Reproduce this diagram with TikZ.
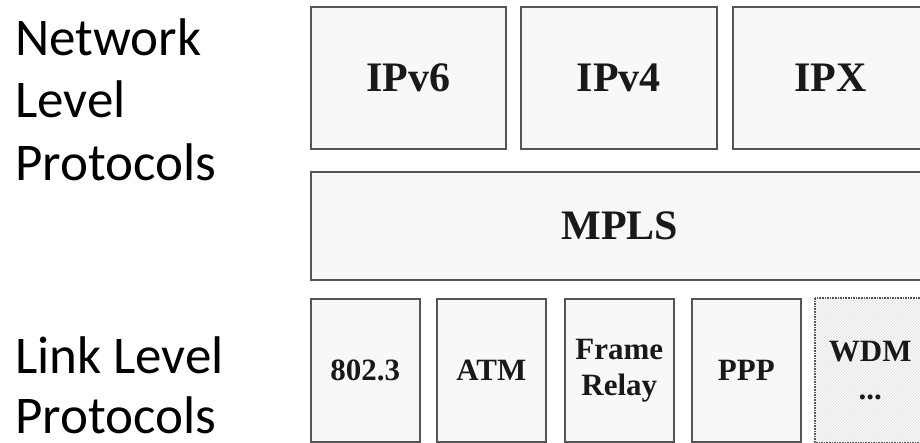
\documentclass[tikz,border=0pt]{standalone}
\usepackage{fontspec}
\setmainfont{Liberation Serif}
\newfontfamily\labelfont{Carlito}
\usetikzlibrary{patterns}
\definecolor{boxfill}{HTML}{F8F8F8}
\definecolor{boxline}{HTML}{555555}
\begin{document}
\begin{tikzpicture}[x=1pt,y=-1pt,
  protobox/.style={draw=boxline, line width=1.6pt, fill=boxfill, anchor=north west,
    inner sep=0pt, align=center, text=black!90, font=\bfseries},
  bigbox/.style={protobox, font=\fontsize{42}{46}\selectfont\bfseries},
  smallbox/.style={protobox, minimum width=109pt, minimum height=143pt,
    font=\fontsize{31}{36}\selectfont\bfseries},
  sidelabel/.style={anchor=base west, align=left, inner sep=0pt}
]
\clip (0,0) rectangle (920,442);
\fill[white] (0,0) rectangle (920,442);
% left labels (base anchor = baseline of the last line)
\node[sidelabel, font=\labelfont\fontsize{53}{62.5}\selectfont] (netlbl) at (15,180) {Network\\Level\\Protocols};
\node[sidelabel, font=\labelfont\fontsize{53}{60}\selectfont] (linklbl) at (15,433) {Link Level\\Protocols};
% network level
\node[bigbox, minimum width=195pt, minimum height=142pt] (ipv6) at (310,6) {IPv6};
\node[bigbox, minimum width=196pt, minimum height=142pt] (ipv4) at (520,6) {IPv4};
\node[bigbox, minimum width=195pt, minimum height=142pt] (ipx) at (732,6) {IPX};
% MPLS
\node[bigbox, minimum width=618pt, minimum height=108pt] (mpls) at (310,171) {MPLS};
% link level
\node[smallbox] (e8023) at (310,298) {802.3};
\node[smallbox] (atm) at (436,298) {ATM};
\node[smallbox] (fr) at (564,298) {Frame\\Relay};
\node[smallbox] (ppp) at (691,298) {PPP};
\node[smallbox, draw=none, pattern=north east lines, pattern color=black!12,
  preaction={fill=boxfill}] (wdm) at (815,298) {WDM\\[2pt]...};
\draw[boxline, line width=1.6pt, densely dotted] (wdm.north west) rectangle (wdm.south east);
\end{tikzpicture}
\end{document}
